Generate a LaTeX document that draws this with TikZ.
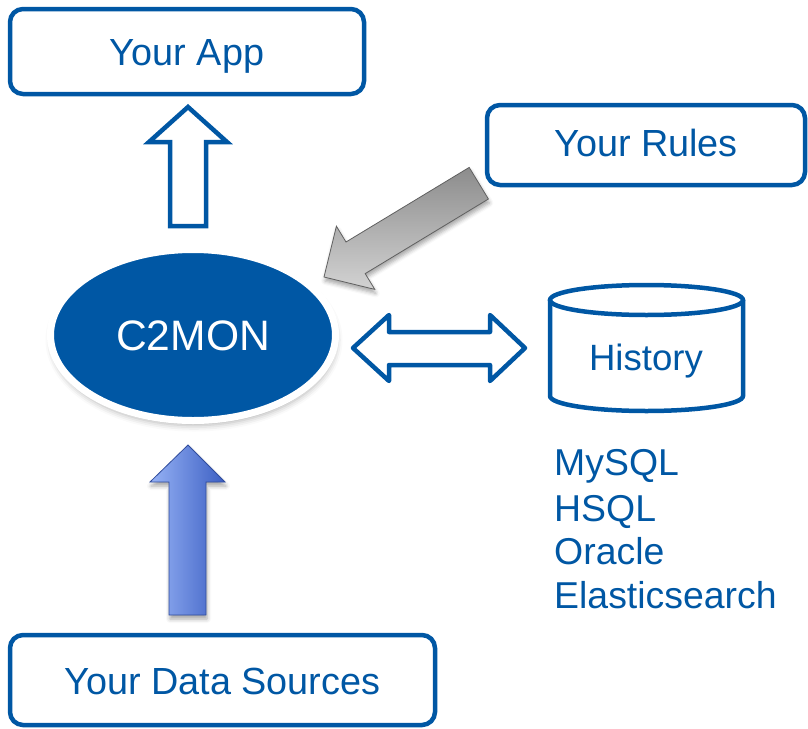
\documentclass[tikz,border=0pt]{standalone}
\usepackage{fontspec}
\setmainfont{Liberation Sans}
\usetikzlibrary{shapes.geometric,shadows.blur}
\definecolor{cblue}{RGB}{0,87,164}
\definecolor{alight}{RGB}{150,178,245}
\definecolor{adark}{RGB}{60,95,195}
\begin{document}
\begin{tikzpicture}[x=1pt,y=-1pt,
  box/.style={draw=cblue,line width=4.5pt,rounded corners=13pt,fill=white,text=cblue,
    inner sep=0pt,text depth=0pt,font=\fontsize{37.8}{44}\selectfont},
  lbl/.style={text=cblue,inner sep=0pt,anchor=base west,font=\fontsize{37.4}{43}\selectfont},
  hollow/.style={draw=cblue,line width=4.5pt,fill=white},
  shade/.style={blur shadow={shadow xshift=1pt,shadow yshift=-4pt,shadow blur radius=4pt,shadow opacity=35}}]
\useasboundingbox (0,0) rectangle (808,728);

% boxes
\node[box,minimum width=354pt,minimum height=85pt,text height=27.6pt] (app) at (187,51.5) {Your App};
\node[box,minimum width=318pt,minimum height=80pt,text height=23.9pt] (rules) at (646,145) {Your Rules};
\node[box,minimum width=425pt,minimum height=90pt,text height=28.5pt] (data) at (222.5,680) {Your Data Sources};

% C2MON ellipse
\node[ellipse,draw=white,line width=7pt,fill=cblue,text=white,inner sep=0pt,
  minimum width=285pt,minimum height=171pt,text height=31.4pt,text depth=0pt,
  font=\fontsize{42.6}{50}\selectfont,
  blur shadow={shadow xshift=1pt,shadow yshift=-5pt,shadow blur radius=6pt,shadow opacity=30}]
  (c2mon) at (193,335) {C2MON};

% history cylinder
\draw[cblue,line width=4.5pt] (550,300) -- (550,396) arc[start angle=180,end angle=0,x radius=96.5,y radius=15] -- (743,300);
\draw[cblue,line width=4.5pt] (646.5,300) ellipse [x radius=96.5,y radius=15];
\node[text=cblue,inner sep=0pt,anchor=base,font=\fontsize{36.6}{43}\selectfont] (hist) at (646,370) {History};

% database list
\node[lbl] (db1) at (554,475) {MySQL};
\node[lbl] (db2) at (554,521) {HSQL};
\node[lbl] (db3) at (554,564.5) {Oracle};
\node[lbl] (db4) at (554,608.5) {Elasticsearch};

% arrow C2MON -> App (hollow)
\draw[hollow,line join=miter] (188,107) -- (227,142) -- (206,142) -- (206,226) -- (170,226)
  -- (170,142) -- (149,142) -- cycle;

% double arrow C2MON <-> History
\draw[hollow,line join=round] (353,348) -- (389,315) -- (389,332) -- (490,332) -- (490,315)
  -- (525,348) -- (490,381) -- (490,365) -- (389,365) -- (389,381) -- cycle;

% grey arrow Rules -> C2MON
\draw[shade,draw=gray!75!black,line width=0.8pt,left color=gray!90,right color=gray!35,shading angle=0]
  (324,277) -- (336.4,226.2) -- (346,242) -- (469.2,167.4) -- (488.4,199) -- (365.2,273.6)
  -- (374.8,289.4) -- cycle;

% blue arrow Data Sources -> C2MON
\draw[shade,draw=adark!80!black,line width=0.8pt,left color=alight,right color=adark]
  (188,445) -- (225,482) -- (206,482) -- (206,615) -- (169,615) -- (169,482) -- (150,482) -- cycle;
\end{tikzpicture}
\end{document}
